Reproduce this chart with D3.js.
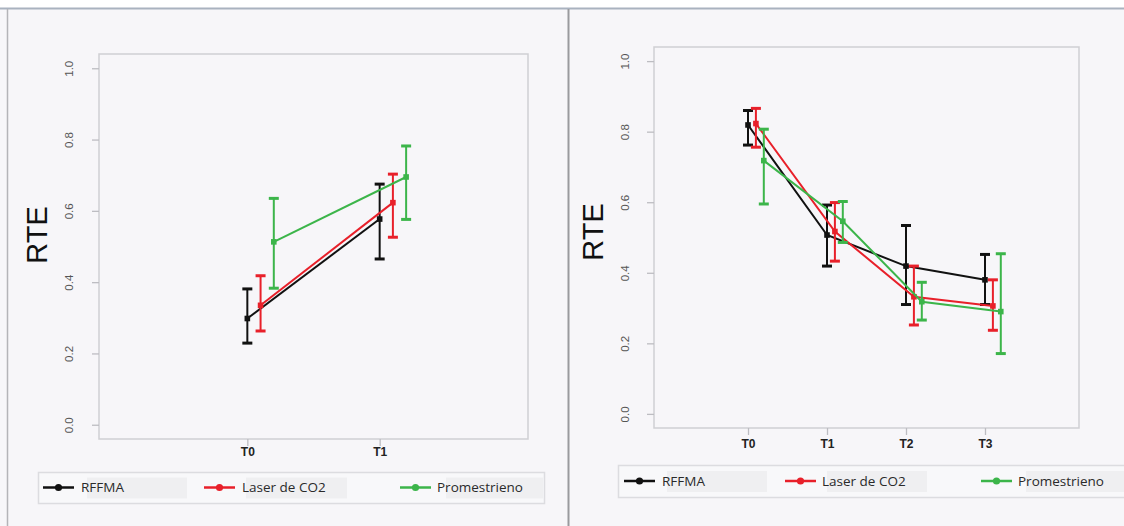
<!DOCTYPE html>
<html>
<head>
<meta charset="utf-8">
<script src="https://cdn.jsdelivr.net/npm/d3@7"></script>
<style>
  body { margin: 0; background: #ffffff; }
  .ejes text { font-family: "Liberation Sans", Arial, sans-serif; }
</style>
</head>
<body>
<div id="graf"></div>
<script>
const grupos = ["RFFMA", "Laser de CO2", "Promestrieno"]
const colores = ["#111111", "#e8202a", "#3cb54a"]
const yTicks = [0, 0.2, 0.4, 0.6, 0.8, 1.0]

// panel izquierdo
const tiempos1 = ["T0", "T1"]
const medias1 = [[0.298, 0.577], [0.335, 0.623], [0.513, 0.695]]
const inf1 = [[0.229, 0.465], [0.263, 0.526], [0.383, 0.576]]
const sup1 = [[0.381, 0.675], [0.418, 0.703], [0.635, 0.782]]

// panel derecho
const tiempos2 = ["T0", "T1", "T2", "T3"]
const medias2 = [[0.819, 0.507, 0.419, 0.380], [0.823, 0.517, 0.332, 0.306], [0.718, 0.546, 0.318, 0.290]]
const inf2 = [[0.762, 0.419, 0.310, 0.310], [0.756, 0.433, 0.252, 0.237], [0.595, 0.486, 0.266, 0.171]]
const sup2 = [[0.860, 0.592, 0.534, 0.452], [0.866, 0.599, 0.419, 0.380], [0.807, 0.602, 0.373, 0.454]]

const anchoTotal = 1124
const altoTotal = 526

const svg = d3.select("#graf")
  .append("svg")
  .attr("width", anchoTotal)
  .attr("height", altoTotal)

// fondo y marcos de la ventana
svg.append("rect").attr("width", anchoTotal).attr("height", altoTotal).attr("fill", "#f7f6f9")
svg.append("rect").attr("width", anchoTotal).attr("height", 8).attr("fill", "#ffffff")
svg.append("line").attr("x1", 0).attr("x2", anchoTotal).attr("y1", 8.5).attr("y2", 8.5)
  .attr("stroke", "#a9b2bf").attr("stroke-width", 2)
svg.append("line").attr("x1", 7.5).attr("x2", 7.5).attr("y1", 9).attr("y2", altoTotal)
  .attr("stroke", "#b4b4b8").attr("stroke-width", 1.5)
svg.append("line").attr("x1", 568.5).attr("x2", 568.5).attr("y1", 9).attr("y2", altoTotal)
  .attr("stroke", "#9a9a9e").attr("stroke-width", 2)

const panel = (cfg, tiempos, medias, inf, sup) => {
  const x = d3.scaleLinear().domain(cfg.xDom).range([cfg.left, cfg.right])
  const y = d3.scaleLinear().domain([-0.04, 1.04]).range([cfg.bottom, cfg.top])
  const g = svg.append("g")

  // caja del gráfico
  g.append("rect")
    .attr("x", cfg.left).attr("y", cfg.top)
    .attr("width", cfg.right - cfg.left).attr("height", cfg.bottom - cfg.top)
    .attr("fill", "none").attr("stroke", "#cfcfd3").attr("stroke-width", 1.5)

  // eje y
  const ejeY = g.append("g")
    .attr("class", "ejes")
    .attr("transform", `translate(${cfg.left}, 0)`)
    .call(d3.axisLeft(y).tickValues(yTicks).tickSize(7).tickFormat(d3.format(".1f")))
  ejeY.select(".domain").remove()
  ejeY.selectAll("line").attr("stroke", "#bdbdc2").attr("stroke-width", 1.3)
  ejeY.selectAll("text")
    .attr("transform", "rotate(-90)")
    .attr("x", 0).attr("y", -cfg.yLab).attr("dy", "0.35em")
    .attr("text-anchor", "middle")
    .attr("font-size", 11.5).attr("fill", "#555")

  // eje x
  const ejeX = g.append("g")
    .attr("class", "ejes")
    .attr("transform", `translate(0, ${cfg.bottom})`)
    .call(d3.axisBottom(x).tickValues(d3.range(tiempos.length)).tickSize(7).tickFormat((i) => tiempos[i]))
  ejeX.select(".domain").remove()
  ejeX.selectAll("line").attr("stroke", "#bdbdc2").attr("stroke-width", 1.3)
  ejeX.selectAll("text")
    .attr("y", cfg.xLab).attr("dy", "0.35em")
    .attr("font-size", 12).attr("font-weight", "bold").attr("fill", "#222")

  g.append("text")
    .attr("transform", `translate(${cfg.rteX}, ${cfg.rteY}) rotate(-90)`)
    .attr("text-anchor", "middle").attr("dy", "0.35em")
    .attr("font-family", "Liberation Sans, Arial, sans-serif")
    .attr("font-size", 29).attr("fill", "#111")
    .text("RTE")

  // series: líneas, barras de error y puntos
  grupos.forEach((nombre, s) => {
    const datos = medias[s].map((m, i) => ({ i: i + s * 0.1, m: m, lo: inf[s][i], hi: sup[s][i] }))
    const col = colores[s]
    g.append("path")
      .datum(datos)
      .attr("fill", "none").attr("stroke", col).attr("stroke-width", 2)
      .attr("d", d3.line().x((d) => x(d.i)).y((d) => y(d.m)))
    const barras = g.selectAll(null).data(datos).enter().append("g")
    barras.append("line")
      .attr("x1", (d) => x(d.i)).attr("x2", (d) => x(d.i))
      .attr("y1", (d) => y(d.lo)).attr("y2", (d) => y(d.hi))
      .attr("stroke", col).attr("stroke-width", 2)
    barras.append("line")
      .attr("x1", (d) => x(d.i) - 5).attr("x2", (d) => x(d.i) + 5)
      .attr("y1", (d) => y(d.hi)).attr("y2", (d) => y(d.hi))
      .attr("stroke", col).attr("stroke-width", 3)
    barras.append("line")
      .attr("x1", (d) => x(d.i) - 5).attr("x2", (d) => x(d.i) + 5)
      .attr("y1", (d) => y(d.lo)).attr("y2", (d) => y(d.lo))
      .attr("stroke", col).attr("stroke-width", 3)
    barras.append("rect")
      .attr("x", (d) => x(d.i) - 2.8).attr("y", (d) => y(d.m) - 2.8)
      .attr("width", 5.6).attr("height", 5.6)
      .attr("fill", col)
  })

  // leyenda
  const ley = cfg.ley
  g.append("rect")
    .attr("x", ley.x0 + 0.5).attr("y", ley.y0 + 0.5)
    .attr("width", ley.x1 - ley.x0).attr("height", ley.y1 - ley.y0)
    .attr("fill", "#f8f8fa").attr("stroke", "#dcdce0").attr("stroke-width", 1.5)
  grupos.forEach((nombre, s) => {
    const it = ley.items[s]
    const cy = (ley.y0 + ley.y1) / 2
    g.append("rect")
      .attr("x", it.box0).attr("y", cy - 10)
      .attr("width", it.box1 - it.box0).attr("height", 21)
      .attr("fill", "#efeff1")
    g.append("line")
      .attr("x1", it.l0).attr("x2", it.l0 + 31).attr("y1", cy).attr("y2", cy)
      .attr("stroke", colores[s]).attr("stroke-width", 2.5)
    g.append("circle")
      .attr("cx", it.l0 + 15.5).attr("cy", cy).attr("r", 3.6)
      .attr("fill", colores[s])
    g.append("text")
      .attr("x", it.t).attr("y", cy).attr("dy", "0.35em")
      .attr("font-family", "Open Sans, sans-serif")
      .attr("font-size", 13.5).attr("fill", "#2a2a2a")
      .text(nombre)
  })
}

panel({
  left: 99, right: 528, top: 54, bottom: 439, xDom: [-1.121, 2.121],
  yLab: 30, xLab: 13, rteX: 37, rteY: 235,
  ley: {
    x0: 38, x1: 544, y0: 472, y1: 503,
    items: [
      { l0: 43, t: 81, box0: 87, box1: 187 },
      { l0: 204, t: 242, box0: 246, box1: 347 },
      { l0: 400, t: 437, box0: 446, box1: 543 }
    ]
  }
}, tiempos1, medias1, inf1, sup1)

panel({
  left: 654, right: 1079, top: 47, bottom: 428, xDom: [-1.19, 4.19],
  yLab: 29, xLab: 16, rteX: 593, rteY: 232,
  ley: {
    x0: 618, x1: 1130, y0: 465, y1: 497,
    items: [
      { l0: 624, t: 662, box0: 667, box1: 767 },
      { l0: 785, t: 822, box0: 827, box1: 927 },
      { l0: 981, t: 1018, box0: 1026, box1: 1124 }
    ]
  }
}, tiempos2, medias2, inf2, sup2)
</script>
</body>
</html>
